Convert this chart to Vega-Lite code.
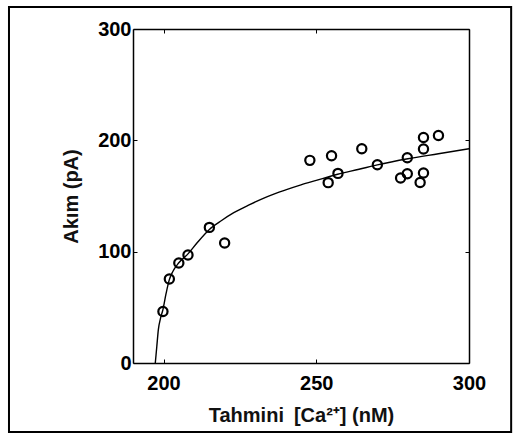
{
  "$schema": "https://vega.github.io/schema/vega-lite/v6.json",
  "width": 336,
  "height": 334,
  "autosize": {"type": "none"},
  "padding": {"left": 133, "top": 29, "right": 46, "bottom": 71},
  "background": "white",
  "config": {
    "view": {"stroke": null},
    "axis": {
      "labelFont": "Liberation Sans",
      "labelFontWeight": "bold",
      "labelFontSize": 20,
      "labelColor": "#000",
      "labelFlush": false,
      "labelOverlap": false,
      "titleFont": "Liberation Sans",
      "titleFontSize": 20,
      "titleFontWeight": "bold",
      "titleColor": "#111",
      "grid": false,
      "domainColor": "#000",
      "domainWidth": 1.5,
      "tickColor": "#000",
      "tickSize": -4,
      "tickWidth": 1
    }
  },
  "datasets": {
    "obs": [
      {"ca": 199.8, "current": 46.3},
      {"ca": 201.9, "current": 75.4},
      {"ca": 205.0, "current": 89.8},
      {"ca": 208.0, "current": 97.0},
      {"ca": 215.0, "current": 121.8},
      {"ca": 220.0, "current": 107.8},
      {"ca": 247.9, "current": 182.0},
      {"ca": 253.9, "current": 162.0},
      {"ca": 255.0, "current": 186.2},
      {"ca": 257.1, "current": 170.3},
      {"ca": 264.9, "current": 192.5},
      {"ca": 270.0, "current": 178.1},
      {"ca": 277.6, "current": 166.2},
      {"ca": 279.8, "current": 170.0},
      {"ca": 279.8, "current": 184.4},
      {"ca": 284.0, "current": 162.2},
      {"ca": 285.1, "current": 170.7},
      {"ca": 285.1, "current": 192.2},
      {"ca": 285.1, "current": 202.6},
      {"ca": 290.0, "current": 204.4}
    ],
    "fit": [
      {"ca": 197.3, "current": 0},
      {"ca": 197.8, "current": 15},
      {"ca": 198.3, "current": 30},
      {"ca": 199.0, "current": 40},
      {"ca": 199.8, "current": 48},
      {"ca": 200.8, "current": 62},
      {"ca": 201.8, "current": 74},
      {"ca": 203.0, "current": 82},
      {"ca": 205.0, "current": 90},
      {"ca": 208.0, "current": 98},
      {"ca": 211.0, "current": 108},
      {"ca": 215.0, "current": 120},
      {"ca": 219.0, "current": 128},
      {"ca": 223.0, "current": 135},
      {"ca": 228.0, "current": 142},
      {"ca": 234.0, "current": 149.5},
      {"ca": 240.0, "current": 155.5},
      {"ca": 245.0, "current": 160},
      {"ca": 250.0, "current": 164},
      {"ca": 257.0, "current": 169.5},
      {"ca": 264.0, "current": 174},
      {"ca": 270.0, "current": 178},
      {"ca": 280.0, "current": 183.5},
      {"ca": 290.0, "current": 188},
      {"ca": 300.0, "current": 192.5}
    ]
  },
  "layer": [
    {
      "data": {"name": "obs"},
      "mark": {"type": "point", "shape": "circle", "filled": false, "stroke": "#000", "strokeWidth": 2.2, "size": 85, "opacity": 1},
      "encoding": {
        "x": {"field": "ca", "type": "quantitative", "scale": {"domain": [190, 300], "nice": false, "zero": false},
          "axis": {"orient": "bottom", "values": [200, 250, 300], "title": "Tahmini\u2002[Ca\u00b2\u207a] (nM)", "labelPadding": 14, "titlePadding": 12}},
        "y": {"field": "current", "type": "quantitative", "scale": {"domain": [0, 300], "nice": false},
          "axis": {"orient": "left", "values": [0, 100, 200, 300], "title": "Akım (pA)", "labelPadding": 6, "titlePadding": 16}}
      }
    },
    {
      "data": {"name": "fit"},
      "mark": {"type": "line", "color": "#000", "strokeWidth": 1.4, "interpolate": "monotone"},
      "encoding": {
        "x": {"field": "ca", "type": "quantitative", "scale": {"domain": [190, 300], "nice": false, "zero": false},
          "axis": {"orient": "top", "values": [200, 250, 300], "labels": false, "title": null}},
        "y": {"field": "current", "type": "quantitative", "scale": {"domain": [0, 300], "nice": false},
          "axis": {"orient": "right", "values": [0, 100, 200, 300], "labels": false, "title": null}}
      }
    },
    {
      "data": {"values": [{"frame": "outer"}]},
      "mark": {"type": "rect", "fill": "transparent", "stroke": "#000", "strokeWidth": 2, "clip": false},
      "encoding": {
        "x": {"datum": 149.4, "type": "quantitative", "axis": null},
        "x2": {"datum": 313.8},
        "y": {"datum": 319.8, "type": "quantitative", "axis": null},
        "y2": {"datum": -62}
      }
    }
  ],
  "resolve": {"axis": {"x": "independent", "y": "independent"}}
}
